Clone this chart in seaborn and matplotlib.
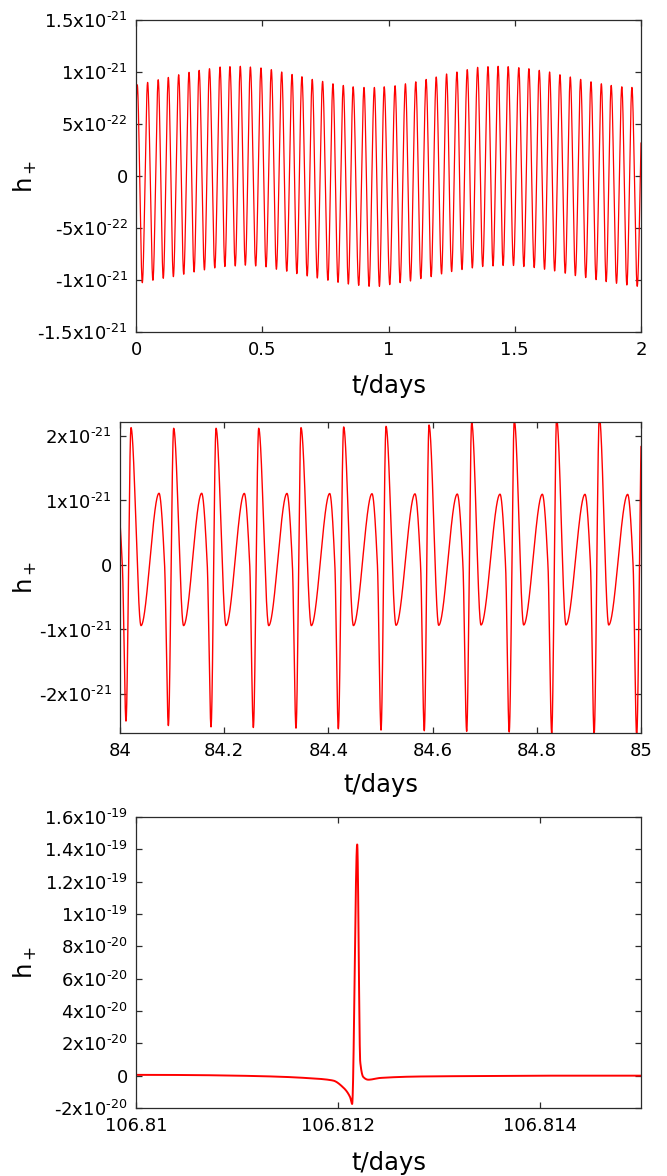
import numpy as np
import pandas as pd
import matplotlib
matplotlib.use("Agg")
import matplotlib.pyplot as plt
import seaborn as sns

# ---------------------------------------------------------------------------
# Panel 1: first two days (t in days, strain in units of 1e-21)
# ---------------------------------------------------------------------------
p1_peak_t = [0.005, 0.046, 0.088, 0.128, 0.169, 0.210, 0.250, 0.291, 0.333, 0.372,
             0.413, 0.453, 0.495, 0.536, 0.577, 0.618, 0.657, 0.698, 0.739, 0.780,
             0.821, 0.860, 0.903, 0.944, 0.983, 1.026, 1.067, 1.108, 1.149, 1.189,
             1.230, 1.271, 1.312, 1.353, 1.394, 1.434, 1.474, 1.516, 1.556, 1.597,
             1.638, 1.679, 1.720, 1.761, 1.802, 1.843, 1.882, 1.924, 1.964, 2.008]
p1_peak_h = [0.877, 0.900, 0.926, 0.948, 0.974, 0.997, 1.016, 1.032, 1.048, 1.052,
             1.055, 1.048, 1.039, 1.023, 1.000, 0.977, 0.955, 0.929, 0.910, 0.887,
             0.871, 0.858, 0.852, 0.852, 0.858, 0.868, 0.887, 0.906, 0.929, 0.952,
             0.981, 1.000, 1.023, 1.045, 1.052, 1.055, 1.052, 1.042, 1.032, 1.016,
             1.000, 0.974, 0.952, 0.929, 0.906, 0.887, 0.871, 0.858, 0.852, 0.852]
p1_trough_t = [-0.016, 0.025, 0.067, 0.108, 0.148, 0.189, 0.230, 0.271, 0.312, 0.352,
               0.393, 0.433, 0.474, 0.515, 0.556, 0.597, 0.637, 0.678, 0.718, 0.760,
               0.800, 0.841, 0.882, 0.923, 0.964, 1.005, 1.046, 1.087, 1.128, 1.169,
               1.210, 1.250, 1.291, 1.332, 1.373, 1.414, 1.454, 1.495, 1.536, 1.577,
               1.618, 1.658, 1.700, 1.740, 1.781, 1.822, 1.862, 1.903, 1.944, 1.985]
p1_trough_h = [-1.030, -1.026, -1.003, -0.984, -0.968, -0.945, -0.923, -0.903, -0.884, -0.871,
               -0.865, -0.858, -0.865, -0.874, -0.897, -0.916, -0.939, -0.961, -0.981, -1.003,
               -1.023, -1.039, -1.052, -1.061, -1.061, -1.045, -1.026, -1.010, -0.987, -0.968,
               -0.942, -0.919, -0.900, -0.884, -0.871, -0.865, -0.861, -0.861, -0.871, -0.881,
               -0.897, -0.913, -0.935, -0.958, -0.977, -0.997, -1.016, -1.032, -1.048, -1.061]

# ---------------------------------------------------------------------------
# Panel 2: day 84 to 85, eccentric orbit (strain in units of 1e-21)
# ---------------------------------------------------------------------------
p2_big_trough_t = [84.0115, 84.0928, 84.1747, 84.2559, 84.3378, 84.4190, 84.5010,
                   84.5840, 84.6654, 84.7470, 84.8286, 84.9100, 84.9917]
p2_big_trough_h = [-2.42, -2.49, -2.51, -2.52, -2.53, -2.54, -2.56,
                   -2.57, -2.58, -2.59, -2.61, -2.63, -2.65]
p2_big_peak_t = [84.0211, 84.1030, 84.1843, 84.2662, 84.3474, 84.4293, 84.5106,
                 84.5931, 84.6750, 84.7568, 84.8380, 84.9200, 85.0020]
p2_big_peak_h = [2.13, 2.12, 2.12, 2.12, 2.13, 2.14, 2.15,
                 2.17, 2.21, 2.24, 2.27, 2.30, 2.33]
p2_small_trough_t = [84.0403, 84.1220, 84.2035, 84.2854, 84.3672, 84.4480,
                     84.5298, 84.6117, 84.6929, 84.7748, 84.8560, 84.9380]
p2_small_trough_h = [-0.94, -0.94, -0.94, -0.94, -0.94, -0.94,
                     -0.935, -0.935, -0.93, -0.93, -0.93, -0.93]
p2_small_peak_t = [83.9936, 84.0749, 84.1568, 84.2386, 84.3205, 84.4025, 84.4837,
                   84.5662, 84.6474, 84.7294, 84.8106, 84.8925, 84.9744]
p2_small_peak_h = [1.11, 1.112, 1.112, 1.11, 1.11, 1.108, 1.105,
                   1.103, 1.10, 1.098, 1.097, 1.096, 1.095]
# zero crossings on the plunge from each small peak into the next big trough
p2_plunge_zero_t = [84.0045, 84.0856, 84.1675, 84.2490, 84.3309, 84.4124, 84.4941,
                    84.5769, 84.6582, 84.7400, 84.8214, 84.9030, 84.9848]

# ---------------------------------------------------------------------------
# Panel 3: final burst (strain in units of 1e-20)
# ---------------------------------------------------------------------------
p3_t = [106.81000, 106.81050, 106.81100, 106.81140, 106.81170, 106.81195,
        106.81205, 106.81212, 106.81214, 106.81219, 106.81222, 106.81225,
        106.81230, 106.81242, 106.81282, 106.81350, 106.81420, 106.81500]
p3_h = [0.05, 0.04, 0.0, -0.06, -0.15, -0.30,
        -0.72, -1.33, -1.75, 14.3, 0.85, -0.08,
        -0.25, -0.14, -0.05, -0.02, 0.0, 0.0]

xlabel_text = "t/days"
ylabel_text = r"$\mathregular{h_+}$"

p1_xticks = [0, 0.5, 1, 1.5, 2]
p1_xticklabels = ["0", "0.5", "1", "1.5", "2"]
p1_yticks = [-1.5e-21, -1e-21, -5e-22, 0, 5e-22, 1e-21, 1.5e-21]
p1_yticklabels = [("-1.5", -21), ("-1", -21), ("-5", -22), ("0", None),
                  ("5", -22), ("1", -21), ("1.5", -21)]

p2_xticks = [84, 84.2, 84.4, 84.6, 84.8, 85]
p2_xticklabels = ["84", "84.2", "84.4", "84.6", "84.8", "85"]
p2_yticks = [-2e-21, -1e-21, 0, 1e-21, 2e-21]
p2_yticklabels = [("-2", -21), ("-1", -21), ("0", None), ("1", -21), ("2", -21)]

p3_xticks = [106.810, 106.812, 106.814]
p3_xticklabels = ["106.81", "106.812", "106.814"]
p3_yticks = [-2e-20, 0, 2e-20, 4e-20, 6e-20, 8e-20, 1e-19, 1.2e-19, 1.4e-19, 1.6e-19]
p3_yticklabels = [("-2", -20), ("0", None), ("2", -20), ("4", -20), ("6", -20),
                  ("8", -20), ("1", -19), ("1.2", -19), ("1.4", -19), ("1.6", -19)]


def pchip(xk, yk, x):
    """Monotone piecewise-cubic Hermite curve through the knots."""
    xk = np.asarray(xk, float)
    yk = np.asarray(yk, float)
    h = np.diff(xk)
    d = np.diff(yk) / h
    m = np.zeros_like(yk)
    for k in range(1, len(xk) - 1):
        if d[k - 1] * d[k] > 0:
            w1 = 2 * h[k] + h[k - 1]
            w2 = h[k] + 2 * h[k - 1]
            m[k] = (w1 + w2) / (w1 / d[k - 1] + w2 / d[k])
    i = np.clip(np.searchsorted(xk, x) - 1, 0, len(xk) - 2)
    s = (x - xk[i]) / h[i]
    h00 = 2 * s**3 - 3 * s**2 + 1
    h10 = s**3 - 2 * s**2 + s
    h01 = -2 * s**3 + 3 * s**2
    h11 = s**3 - s**2
    return h00 * yk[i] + h10 * h[i] * m[i] + h01 * yk[i + 1] + h11 * h[i] * m[i + 1]


def knots(*pairs):
    t = np.concatenate([np.asarray(a, float) for a, _ in pairs])
    v = np.concatenate([np.asarray(b, float) for _, b in pairs])
    order = np.argsort(t)
    return t[order], v[order]


HYPHEN = "\u2010"


def sci(mant, exp):
    """Gnuplot-style tick text, e.g. 1.5x10^-21, with a short hyphen."""
    if exp is None:
        return mant
    m = mant.replace("-", HYPHEN)
    e = str(exp).replace("-", HYPHEN)
    return r"$\mathregular{%sx10^{%s}}$" % (m, e)


sns.set_style("ticks")
plt.rcParams.update({
    "font.family": ["DejaVu Sans"],
    "mathtext.fontset": "dejavusans",
    "xtick.direction": "in",
    "ytick.direction": "in",
    "xtick.top": True,
    "ytick.right": True,
    "xtick.major.size": 4.6,
    "ytick.major.size": 4.6,
    "xtick.major.width": 0.9,
    "ytick.major.width": 0.9,
    "xtick.major.pad": 6.5,
    "ytick.major.pad": 6.0,
    "axes.linewidth": 0.9,
    "axes.edgecolor": "#2b2b2b",
    "xtick.color": "#2b2b2b",
    "ytick.color": "#2b2b2b",
    "xtick.labelcolor": "black",
    "ytick.labelcolor": "black",
    "xtick.labelsize": 13,
    "ytick.labelsize": 13,
    "axes.labelsize": 17.5,
    "axes.labelcolor": "black",
})

W, H = 667, 1176
fig = plt.figure(figsize=(W / 100, H / 100), dpi=100)


def make_axes(x0, y0, x1, y1):
    return fig.add_axes([x0 / W, 1 - y1 / H, (x1 - x0) / W, (y1 - y0) / H])


panels = []

# --- panel 1 ---
ax1 = make_axes(136, 20, 641, 332)
t1k, h1k = knots((p1_peak_t, p1_peak_h), (p1_trough_t, p1_trough_h))
t1 = np.linspace(0, 2, 12000)
df1 = pd.DataFrame({"t": t1, "h": pchip(t1k, h1k, t1) * 1e-21})
sns.lineplot(data=df1, x="t", y="h", ax=ax1, color="#ff0000", linewidth=0.9,
             estimator=None, sort=False)
ax1.set_xlim(0, 2)
ax1.set_ylim(-1.5e-21, 1.5e-21)
ax1.set_xticks(p1_xticks, p1_xticklabels)
ax1.set_yticks(p1_yticks, [sci(m, e) for m, e in p1_yticklabels])
panels.append((ax1, 312, 505, 136))

# --- panel 2 ---
ax2 = make_axes(120, 422, 641, 733)
t2k, h2k = knots((p2_big_trough_t, p2_big_trough_h), (p2_big_peak_t, p2_big_peak_h),
                 (p2_small_trough_t, p2_small_trough_h), (p2_small_peak_t, p2_small_peak_h),
                 (p2_plunge_zero_t, np.zeros(len(p2_plunge_zero_t))))
t2 = np.linspace(84, 85, 12000)
df2 = pd.DataFrame({"t": t2, "h": pchip(t2k, h2k, t2) * 1e-21})
sns.lineplot(data=df2, x="t", y="h", ax=ax2, color="#ff0000", linewidth=1.0,
             estimator=None, sort=False)
ax2.set_xlim(84, 85)
ax2.set_ylim(-2.605e-21, 2.217e-21)
ax2.set_xticks(p2_xticks, p2_xticklabels)
ax2.set_yticks(p2_yticks, [sci(m, e) for m, e in p2_yticklabels])
panels.append((ax2, 311, 521, 120))

# --- panel 3 ---
ax3 = make_axes(136, 817, 641, 1108)
t3 = np.linspace(106.81, 106.815, 30000)
df3 = pd.DataFrame({"t": t3, "h": pchip(p3_t, p3_h, t3) * 1e-20})
sns.lineplot(data=df3, x="t", y="h", ax=ax3, color="#ff0000", linewidth=1.4,
             estimator=None, sort=False)
ax3.set_xlim(106.81, 106.815)
ax3.set_ylim(-2e-20, 1.6e-19)
ax3.set_xticks(p3_xticks, p3_xticklabels)
ax3.set_yticks(p3_yticks, [sci(m, e) for m, e in p3_yticklabels])
panels.append((ax3, 291, 505, 136))

label_gap = [54, 52, 55]
for (ax, hpx, wpx, left), gap in zip(panels, label_gap):
    ax.set_xlabel(xlabel_text)
    ax.set_ylabel(ylabel_text)
    ax.xaxis.set_label_coords(0.5, -gap / hpx)
    ax.xaxis.label.set_verticalalignment("center")
    ax.yaxis.set_label_coords((25 - left) / wpx, 0.5)
    ax.yaxis.label.set_verticalalignment("center")
    ax.tick_params(which="minor", bottom=False, top=False, left=False, right=False)
    for s in ax.spines.values():
        s.set_visible(True)

fig.savefig("out.png", dpi=100, facecolor="white")
